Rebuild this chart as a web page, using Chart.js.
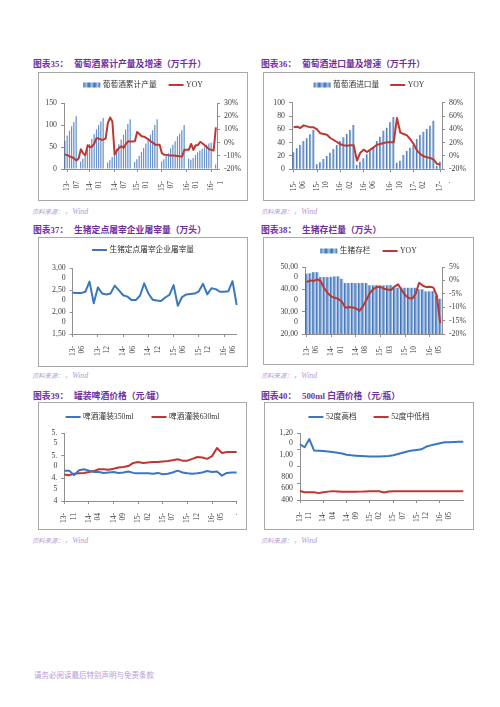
<!DOCTYPE html>
<html lang="zh-CN">
<head>
<meta charset="utf-8">
<title>图表35-40</title>
<script src="https://cdn.jsdelivr.net/npm/chart.js@4.4.1/dist/chart.umd.min.js"></script>
<script>
// ---- 图表35: wine cumulative output (万千升) + YOY (%), monthly from 13-07 ----
const prod35 = [64, 76, 87, 97, 107, 120,
  null, 17, 24, 33, 45, 57, 68, 79, 90, 100, 108, 116,
  null, 15, 20, 27, 36, 46, 56, 67, 78, 90, 102, 113,
  null, 16, 22, 30, 39, 48, 58, 68, 78, 88, 100, 113,
  null, 17, 22, 30, 36, 47, 55, 63, 74, 80, 88, 100,
  null, 24, 21, 25, 32, 38, 42, 46, 50, 55, 58, 60,
  null, 10];
const yoy35 = [-9, -9.5, -10.5, -11, -12, -13.5,
  -12, -5, -8, -9.5, -2, -3.5, -3, -0.5, 3.5, 3, 2.2, 2.2,
  3, 15, 19, 16, -9, -6, -4, -2.8, -4, -1, 1, 0.8,
  0.8, 1, 8, 6.5, 4.8, 4.5, 3.5, 2.5, 1, 0, -1.6, -1.6,
  -1.6, -8, -9.2, -9.3, -9.6, -9.7, -9.8, -10, -10.2, -10.4, -10.5, -5.4,
  -5.4, -5.4, -1, -5.5, -2, -2, 0.5, -0.5, -2, -3.5, -5, -5.5,
  -6, 11.5];
const x35TickIdx = [1, 11, 22, 32, 43, 54, 65];
const x35TickText = [['13-', '07'], ['14-', '01'], ['14-', '07'], ['15-', '01'], ['15-', '07'], ['16-', '01'], ['16-', '1']];

// ---- 图表36: wine imports (万千升) + YOY (%) ----
const imp36 = [25.5, 31.5, 36.5, 42.5, 46.5, 52.5, 59,
  7.5, 10.5, 15.5, 20, 25, 30.5, 36.5, 42.5, 48, 53, 59, 66.5,
  6.5, 11.5, 16.5, 22.5, 27.5, 33.5, 42.5, 49, 58, 62.5, 70.5, 78.5,
  10, 13, 21.5, 27.5, 32.5, 36.5, 45.5, 51.5, 56.5, 60.5, 65.5, 73,
  5, 11.5];
const yoy36 = [43, 44, 42, 46, 44.5, 43, 43,
  40, 34, 33, 32, 27, 24, 21, 17.5, 16, 15.5, 16, 16,
  -7, 5, 9.5, 6, 9.5, 13, 17, 18, 19.5, 20.5, 20.5, 20.5,
  57, 35, 33, 31, 25, 18, 8, 3, -0.5, -2, -3, -5.5,
  -12, -13];
const x36TickIdx = [0, 7, 14, 21, 29, 36, 44];
const x36TickText = [['15-', '06'], ['15-', '10'], ['16-', '02'], ['16-', '06'], ['16-', '10'], ['17-', '02'], ['17-', '·']];

// ---- 图表37: pigs slaughtered at designated plants (万头) ----
const slaughter37 = [2440, 2430, 2430, 2460, 2690, 2200, 2560, 2420, 2400, 2420,
  2600, 2490, 2380, 2350, 2270, 2270, 2370, 2650, 2420, 2280,
  2260, 2250, 2330, 2390, 2610, 2140, 2340, 2400, 2410, 2420,
  2470, 2640, 2400, 2540, 2520, 2460, 2460, 2470, 2700, 2160];
const x37TickIdx = [0, 6, 12, 18, 24, 30, 36];
const x37TickText = [['13-', '06'], ['13-', '12'], ['14-', '06'], ['14-', '12'], ['15-', '06'], ['15-', '12'], ['16-', '06']];
const y37Ticks = [1500, 2000, 2500, 3000];
const y37Text = [['1,50'], ['', '2,00', '0'], ['', '2,50', '0'], ['', '3,00', '0']];

// ---- 图表38: hog inventory (万头) + YOY (%) ----
const hogs38 = [47000, 47200, 47700, 47700, 45500, 45500, 45500, 45600, 45800, 45800,
  44700, 42800, 42800, 42900, 42800, 42800, 42900, 42800,
  41800, 41800, 41900, 41800, 41800, 41800, 41900,
  40700, 40700, 40800, 40700, 40700, 40700, 40700,
  40000, 40000, 39100, 39100, 39200, 37300, 35800];
const yoy38 = [-0.6, 0, -0.2, 0.4, -0.4, -3, -4.8, -6, -6.5, -6.9,
  -8, -10.2, -9.9, -10.1, -10.4, -11.4, -9.7, -7.2, -4.6, -3.2,
  -2.5, -2.5, -3.1, -3.4, -3.6, -2.3, -1.5, -3.5, -5.5, -6.6,
  -6.8, -5, -0.9, -1.9, -2.5, -2.4, -2.6, -5.6, -16];
const x38TickIdx = [0, 7, 14, 21, 28, 35];
const x38TickText = [['13-', '06'], ['14-', '01'], ['14-', '08'], ['15-', '03'], ['15-', '10'], ['16-', '05']];
const y38Ticks = [20000, 30000, 40000, 50000];
const y38Text = [['20,00'], ['', '30,00', '0'], ['', '40,00', '0'], ['', '50,00', '0']];

// ---- 图表39: canned beer prices (元/罐) ----
const beer350 = [4.67, 4.67, 4.57, 4.68, 4.70, 4.67, 4.64, 4.64, 4.62, 4.63, 4.64, 4.62,
  4.63, 4.65, 4.62, 4.61, 4.61, 4.61, 4.60, 4.62, 4.59, 4.60, 4.63, 4.67,
  4.63, 4.61, 4.60, 4.61, 4.63, 4.66, 4.64, 4.65, 4.56, 4.62, 4.63, 4.63];
const beer630 = [4.585, 4.57, 4.60, 4.61, 4.62, 4.64, 4.66, 4.70, 4.70, 4.69, 4.71, 4.74,
  4.75, 4.77, 4.84, 4.86, 4.84, 4.85, 4.86, 4.86, 4.87, 4.88, 4.90, 4.92,
  4.89, 4.89, 4.93, 4.97, 4.96, 4.93, 4.99, 5.17, 5.06, 5.08, 5.08, 5.08];
const x39TickIdx = [0, 5, 10, 15, 20, 25, 30, 35];
const x39TickText = [['13-', '11'], ['14-', '04'], ['14-', '09'], ['15-', '02'], ['15-', '07'], ['15-', '12'], ['16-', '05'], ['·']];
const y39Ticks = [4, 4.5, 5, 5.5];
const y39Text = [['4'], ['', '4.', '5'], ['', '5.', '0'], ['', '5.', '5']];

// ---- 图表40: 500ml baijiu prices (元/瓶) ----
const spiritHigh = [1065, 1030, 1128, 992, 988, 985, 980, 972, 965, 955, 940, 933,
  929, 926, 923, 920, 918, 918, 921, 925, 935, 950, 965, 980,
  990, 997, 1005, 1035, 1052, 1065, 1078, 1089, 1090, 1093, 1095, 1097];
const spiritLow = [507, 493, 493, 492, 482, 492, 500, 506, 502, 499, 498, 498,
  499, 500, 502, 505, 505, 505, 490, 502, 505, 505, 505, 505,
  505, 505, 505, 505, 505, 505, 505, 505, 505, 505, 505, 505];
const x40TickIdx = [0, 5, 10, 15, 20, 25, 30];
const x40TickText = [['13-', '11'], ['14-', '04'], ['14-', '09'], ['15-', '02'], ['15-', '07'], ['15-', '12'], ['16-', '05']];
const y40Ticks = [400, 600, 800, 1000, 1200];
const y40Text = [['400'], ['', '600'], ['', '', '800'], ['', '', '1,00', '0'], ['', '1,20', '0']];
</script>
<style>
  html, body { margin: 0; padding: 0; background: #fff; }
  #page { position: relative; width: 500px; height: 707px; overflow: hidden;
          font-family: "Liberation Serif", "Noto Sans CJK SC", serif; }
  .ttl { position: absolute; font-size: 8.8px; line-height: 1; font-weight: bold; color: #7030a0; white-space: nowrap; }
  .ttl .no { display: inline-block; width: 41px; }
  .box { position: absolute; border: 1px solid #a9a9a9; }
  .box canvas { display: block; }
  .src { position: absolute; font-size: 6.3px; line-height: 1; color: #b59bd6; font-style: italic; white-space: nowrap; }
  .src span { font-size: 7.8px; margin-left: 4px; }
  .foot { position: absolute; left: 34px; top: 672px; font-size: 7.5px; line-height: 1; color: #b59bd6; white-space: nowrap; }
</style>
</head>
<body>
<div id="page">
  <div class="ttl" style="left:33px;top:60px"><span class="no">图表35：</span>葡萄酒累计产量及增速（万千升）</div>
  <div class="box" style="left:38px;top:72px;width:208px;height:127px"><canvas id="c35" width="208" height="127"></canvas></div>
  <div class="src" style="left:32px;top:208px">资料来源：<span>，Wind</span></div>

  <div class="ttl" style="left:261px;top:60px"><span class="no">图表36：</span>葡萄酒进口量及增速（万千升）</div>
  <div class="box" style="left:263px;top:72px;width:210px;height:127px"><canvas id="c36" width="210" height="127"></canvas></div>
  <div class="src" style="left:261px;top:208px">资料来源：<span>，Wind</span></div>

  <div class="ttl" style="left:33px;top:226px"><span class="no">图表37：</span>生猪定点屠宰企业屠宰量（万头）</div>
  <div class="box" style="left:38px;top:237px;width:208px;height:128px"><canvas id="c37" width="208" height="128"></canvas></div>
  <div class="src" style="left:32px;top:372px">资料来源：<span>，Wind</span></div>

  <div class="ttl" style="left:261px;top:226px"><span class="no">图表38：</span>生猪存栏量（万头）</div>
  <div class="box" style="left:263px;top:237px;width:209px;height:126px"><canvas id="c38" width="209" height="126"></canvas></div>
  <div class="src" style="left:261px;top:372px">资料来源：<span>，Wind</span></div>

  <div class="ttl" style="left:33px;top:392px"><span class="no">图表39：</span>罐装啤酒价格（元/罐）</div>
  <div class="box" style="left:38px;top:402px;width:207px;height:126px"><canvas id="c39" width="207" height="126"></canvas></div>
  <div class="src" style="left:32px;top:537px">资料来源：<span>，Wind</span></div>

  <div class="ttl" style="left:261px;top:392px"><span class="no">图表40：</span>500ml 白酒价格（元/瓶）</div>
  <div class="box" style="left:264px;top:402px;width:208px;height:126px"><canvas id="c40" width="208" height="126"></canvas></div>
  <div class="src" style="left:261px;top:537px">资料来源：<span>，Wind</span></div>

  <div class="foot">请务必阅读最后特别声明与免责条款</div>
</div>

<script>
const FONT = '"Liberation Serif", "Noto Sans CJK SC", serif';
const AXIS = '#8f8f8f';
const LABEL = '#404040';
const RED = '#bd3832';
const BLUE = '#3b77c0';

// month category names (only used as category keys)
function monthLabels(year, month, n) {
    const out = [];
    for (let i = 0; i < n; i++) {
        const k = month - 1 + i;
        out.push((year + Math.floor(k / 12)) + '-' + String(k % 12 + 1).padStart(2, '0'));
    }
    return out;
}

// turn a plot rectangle given in page pixels into paddings / axis sizes of a canvas
function frame(id, plot) {
    const cv = document.getElementById(id);
    const box = cv.parentElement;
    const ox = box.offsetLeft + box.clientLeft;
    const oy = box.offsetTop + box.clientTop;
    return {
        oy: oy,
        top: plot.t - oy,
        left: plot.l - ox,
        right: ox + cv.width - plot.r,
        bottom: oy + cv.height - plot.b
    };
}

// gradient bars, dark on the left edge and light on the right
function barFill(c) {
    const chart = c.chart;
    const xs = chart.scales.x;
    if (c.type !== 'data' || !xs || !xs.width) return '#6b97d2';
    const n = chart.data.labels.length;
    const x = xs.getPixelForValue(c.dataIndex);
    const w = xs.width / n * (c.dataset.barPercentage || 0.9);
    if (!isFinite(x) || !isFinite(w) || w <= 0) return '#6b97d2';
    const g = chart.ctx.createLinearGradient(x - w / 2, 0, x + w / 2, 0);
    g.addColorStop(0, '#2d5c9c');
    g.addColorStop(0.45, '#6c9ad6');
    g.addColorStop(1, '#d2e1f4');
    return g;
}

// legend drawn above the plot, centred in the box
const boxLegend = {
    id: 'boxLegend',
    afterDraw(chart, args, o) {
        const ctx = chart.ctx;
        ctx.save();
        ctx.font = '7.7px ' + FONT;
        ctx.textBaseline = 'middle';
        const items = chart.data.datasets.map(ds => {
            const sw = ds.type === 'bar' ? 17 : 15;
            return { ds: ds, sw: sw, w: sw + 2.5 + ctx.measureText(ds.label).width };
        });
        const total = items.reduce((a, it) => a + it.w, 0) + o.gap * (items.length - 1);
        let x = chart.width / 2 - total / 2;
        const y = o.y;
        items.forEach(it => {
            if (it.ds.type === 'bar') {
                const g = ctx.createLinearGradient(x, 0, x + it.sw, 0);
                for (let k = 0; k <= 6; k++) g.addColorStop(k / 6, k % 2 ? '#a9c4e8' : '#3a6db0');
                ctx.fillStyle = g;
                ctx.fillRect(x, y - 2.5, it.sw, 5);
            } else {
                ctx.strokeStyle = it.ds.borderColor;
                ctx.lineWidth = 2;
                ctx.beginPath();
                ctx.moveTo(x, y);
                ctx.lineTo(x + it.sw, y);
                ctx.stroke();
            }
            ctx.fillStyle = '#333';
            ctx.fillText(it.ds.label, x + it.sw + 2.5, y);
            x += it.w + o.gap;
        });
        ctx.restore();
    }
};

function xAxis(f, tickIdx, tickText, offset) {
    return {
        type: 'category',
        offset: offset,
        border: { display: true, color: AXIS },
        grid: { drawOnChartArea: false, offset: false, tickLength: 3, color: AXIS },
        ticks: {
            autoSkip: false, minRotation: 90, maxRotation: 90, padding: 9, color: LABEL,
            font: { family: FONT, size: 7.5, lineHeight: 1.25 },
            callback: v => { const k = tickIdx.indexOf(v); return k < 0 ? '' : tickText[k]; }
        },
        afterBuildTicks: s => { s.ticks = s.ticks.filter(t => tickIdx.includes(t.value)); },
        afterFit: s => { s.height = f.bottom; s.paddingLeft = 0; s.paddingRight = 0; }
    };
}

function yAxis(f, side, min, max, step, label) {
    return {
        type: 'linear',
        position: side,
        min: min,
        max: max,
        border: { display: true, color: AXIS },
        grid: { drawOnChartArea: false, tickLength: 3, color: AXIS },
        ticks: { autoSkip: false, stepSize: step, padding: 4, color: LABEL,
                 font: { family: FONT, size: 7.8, lineHeight: 1.32 }, callback: label },
        afterFit: s => {
            s.width = side === 'left' ? f.left : f.right;
            s.paddingTop = 0; s.paddingBottom = 0;
        }
    };
}

function baseOptions(f, legendY, gap, scales, hasRight) {
    return {
        responsive: false,
        animation: false,
        events: [],
        layout: { autoPadding: false, padding: { top: f.top, left: 0, bottom: 0, right: hasRight ? 0 : f.right } },
        scales: scales,
        plugins: {
            legend: { display: false },
            tooltip: { enabled: false },
            boxLegend: { y: legendY - f.oy, gap: gap }
        }
    };
}

function lineSet(label, data, color, axis) {
    return { type: 'line', label: label, data: data, yAxisID: axis, borderColor: color, borderWidth: 2,
             pointRadius: 0, tension: 0, borderJoinStyle: 'round', order: 1 };
}

function barSet(label, data, pct) {
    return { type: 'bar', label: label, data: data, yAxisID: 'y', backgroundColor: barFill,
             barPercentage: pct, categoryPercentage: 1, order: 2 };
}

const pick = (ticks, text) => v => { const k = ticks.indexOf(v); return k < 0 ? '' : text[k]; };

// 图表35
const f35 = frame('c35', { l: 64, t: 103, r: 217, b: 169 });
new Chart(document.getElementById('c35'), {
    type: 'bar',
    data: {
        labels: monthLabels(2013, 7, prod35.length),
        datasets: [barSet('葡萄酒累计产量', prod35, 0.62), lineSet('YOY', yoy35, RED, 'y1')]
    },
    options: baseOptions(f35, 85, 12, {
        x: xAxis(f35, x35TickIdx, x35TickText, true),
        y: yAxis(f35, 'left', 0, 150, 50, v => v),
        y1: yAxis(f35, 'right', -20, 30, 10, v => v + '%')
    }, true),
    plugins: [boxLegend]
});

// 图表36
const f36 = frame('c36', { l: 292, t: 102.7, r: 442, b: 169.3 });
new Chart(document.getElementById('c36'), {
    type: 'bar',
    data: {
        labels: monthLabels(2015, 6, imp36.length),
        datasets: [barSet('葡萄酒进口量', imp36, 0.66), lineSet('YOY', yoy36, RED, 'y1')]
    },
    options: baseOptions(f36, 85, 11, {
        x: xAxis(f36, x36TickIdx, x36TickText, true),
        y: yAxis(f36, 'left', 0, 100, 20, v => v),
        y1: yAxis(f36, 'right', -20, 80, 20, v => v + '%')
    }, true),
    plugins: [boxLegend]
});

// 图表37
const f37 = frame('c37', { l: 72.7, t: 268, r: 236.7, b: 334 });
new Chart(document.getElementById('c37'), {
    type: 'line',
    data: {
        labels: monthLabels(2013, 6, slaughter37.length),
        datasets: [lineSet('生猪定点屠宰企业屠宰量', slaughter37, BLUE, 'y')]
    },
    options: baseOptions(f37, 250, 0, {
        x: xAxis(f37, x37TickIdx, x37TickText, false),
        y: yAxis(f37, 'left', 1500, 3000, 500, pick(y37Ticks, y37Text))
    }, false),
    plugins: [boxLegend]
});

// 图表38
const f38 = frame('c38', { l: 305, t: 267, r: 442, b: 334 });
new Chart(document.getElementById('c38'), {
    type: 'bar',
    data: {
        labels: monthLabels(2013, 6, hogs38.length),
        datasets: [barSet('生猪存栏', hogs38, 0.9), lineSet('YOY', yoy38, RED, 'y1')]
    },
    options: baseOptions(f38, 251, 12, {
        x: xAxis(f38, x38TickIdx, x38TickText, true),
        y: yAxis(f38, 'left', 20000, 50000, 10000, pick(y38Ticks, y38Text)),
        y1: yAxis(f38, 'right', -20, 5, 5, v => v + '%')
    }, true),
    plugins: [boxLegend]
});

// 图表39
const f39 = frame('c39', { l: 64.3, t: 433, r: 236.7, b: 501 });
new Chart(document.getElementById('c39'), {
    type: 'line',
    data: {
        labels: monthLabels(2013, 11, beer350.length),
        datasets: [lineSet('啤酒灌装350ml', beer350, BLUE, 'y'), lineSet('啤酒灌装630ml', beer630, RED, 'y')]
    },
    options: baseOptions(f39, 417, 18, {
        x: xAxis(f39, x39TickIdx, x39TickText, false),
        y: yAxis(f39, 'left', 4, 5.5, 0.5, pick(y39Ticks, y39Text))
    }, false),
    plugins: [boxLegend]
});

// 图表40
const f40 = frame('c40', { l: 300, t: 433, r: 463.3, b: 500 });
new Chart(document.getElementById('c40'), {
    type: 'line',
    data: {
        labels: monthLabels(2013, 11, spiritHigh.length),
        datasets: [lineSet('52度高档', spiritHigh, BLUE, 'y'), lineSet('52度中低档', spiritLow, RED, 'y')]
    },
    options: baseOptions(f40, 417, 17, {
        x: xAxis(f40, x40TickIdx, x40TickText, false),
        y: yAxis(f40, 'left', 400, 1200, 200, pick(y40Ticks, y40Text))
    }, false),
    plugins: [boxLegend]
});
</script>
</body>
</html>
